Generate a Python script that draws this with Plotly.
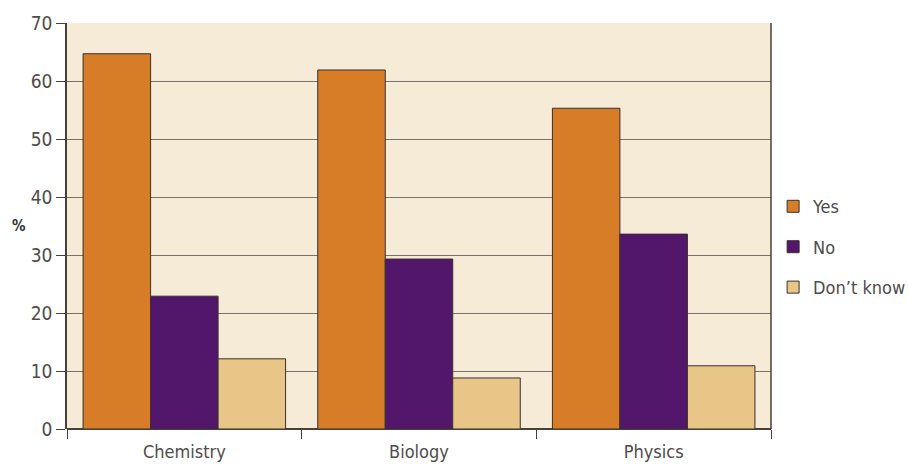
import plotly.graph_objects as go

subjects = ["Chemistry", "Biology", "Physics"]
yes_vals = [64.7, 61.9, 55.3]
no_vals = [22.9, 29.3, 33.6]
dont_know_vals = [12.1, 8.8, 10.9]
series_names = ["Yes", "No", "Don\u2019t know"]
y_ticks = [0, 10, 20, 30, 40, 50, 60, 70]

colors = ["#d77d27", "#52166a", "#e8c687"]
font_family = "DejaVu Sans Condensed, Liberation Sans Narrow, sans-serif"
text_color = "#4f4b4b"
line_color = "#4a403a"

fig = go.Figure()
for name, vals, col in zip(series_names, [yes_vals, no_vals, dont_know_vals], colors):
    fig.add_trace(go.Bar(
        x=subjects, y=vals, name=name, legendgroup=name,
        marker=dict(color=col, line=dict(color="#3a3030", width=1)),
    ))

fig.update_layout(
    width=908, height=464,
    margin=dict(l=67, r=137, t=23, b=35, autoexpand=False),
    paper_bgcolor="white",
    plot_bgcolor="#f6ebd6",
    barmode="group",
    bargap=0.137,
    bargroupgap=0,
    font=dict(family=font_family, size=18, color=text_color),
    showlegend=True,
    legend=dict(
        x=1.003, y=0.448, xanchor="left", yanchor="middle",
        traceorder="grouped", tracegroupgap=14,
        font=dict(size=18, color=text_color),
        bgcolor="rgba(0,0,0,0)",
    ),
    xaxis=dict(
        tickson="boundaries", ticks="outside", ticklen=9, tickcolor=line_color,
        showline=False, showgrid=False, tickfont=dict(size=18, color=text_color),
        ticklabelstandoff=10,
    ),
    yaxis=dict(
        range=[0, 70], tickvals=y_ticks, ticks="outside", ticklen=9,
        tickcolor=line_color, showline=True, linecolor=line_color, linewidth=1.5,
        showgrid=True, gridcolor="#7a716a", gridwidth=1, zeroline=True,
        zerolinecolor=line_color, zerolinewidth=1.5,
        tickfont=dict(size=19, color=text_color),
    ),
    annotations=[dict(
        text="<b>%</b>", xref="paper", yref="paper", x=-0.068, y=0.5,
        xanchor="center", yanchor="middle", showarrow=False,
        font=dict(size=15, color="#333"),
    )],
    shapes=[dict(
        type="line", xref="paper", yref="paper", x0=1, x1=1, y0=0, y1=1,
        line=dict(color=line_color, width=1.5),
    )],
)

fig.write_html("out.html")
